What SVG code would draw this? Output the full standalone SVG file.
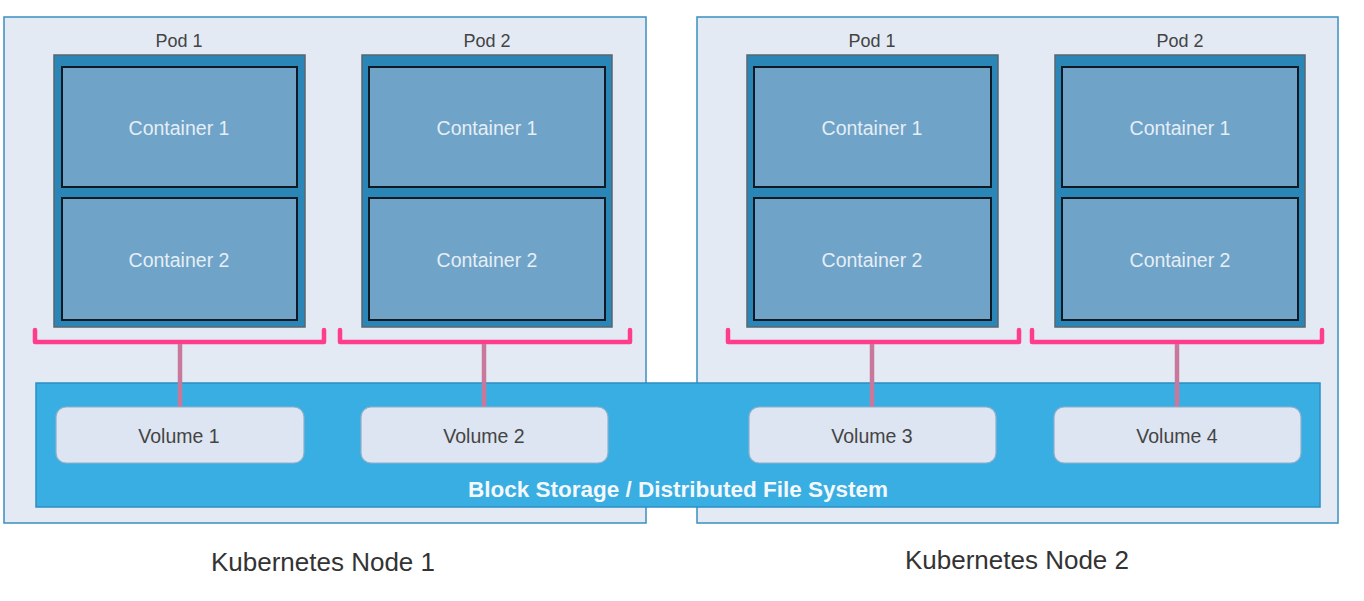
<svg xmlns="http://www.w3.org/2000/svg" width="1364" height="601" viewBox="0 0 1364 601">
<style>
.node{fill:#e3eaf4;stroke:#3b8fc0;stroke-width:1.5}
.pod{fill:#2a86b6;stroke:#5a6570;stroke-width:1.5}
.ctr{fill:#6fa3c8;stroke:#111a22;stroke-width:2}
.vol{fill:#dde4f2;stroke:#8fb0cc;stroke-width:1.2}
.bracket{fill:none;stroke:#ff3d8c;stroke-width:4.5;stroke-linejoin:round;stroke-linecap:round}
.conn{stroke:#c8789a;stroke-width:4.5}
text{font-family:"Liberation Sans",Arial,sans-serif;text-anchor:middle}
.lbl{font-size:18px;fill:#444}
.ctxt{font-size:19.5px;fill:#e6eef6}
.vtxt{font-size:19.5px;fill:#444}
.big{font-size:26px;fill:#333}
.st{font-size:22.5px;font-weight:bold;fill:#f4f8fc}
</style>
<rect width="1364" height="601" fill="#ffffff"/>
<g id="node1">
<rect class="node" x="4" y="17" width="642" height="506"/>
</g>
<g id="node2">
<rect class="node" x="697" y="17" width="641" height="506"/>
</g>
<g id="n1pod1">
<rect class="pod" x="54" y="55" width="251" height="272"/>
<text class="lbl" x="179" y="47">Pod 1</text>
<rect class="ctr" x="62" y="67" width="235" height="120"/>
<text class="ctxt" x="179" y="135">Container 1</text>
<rect class="ctr" x="62" y="198" width="235" height="122"/>
<text class="ctxt" x="179" y="267">Container 2</text>
</g>
<g id="n1pod2">
<rect class="pod" x="362" y="55" width="250" height="272"/>
<text class="lbl" x="487" y="47">Pod 2</text>
<rect class="ctr" x="369" y="67" width="236" height="120"/>
<text class="ctxt" x="487" y="135">Container 1</text>
<rect class="ctr" x="369" y="198" width="236" height="122"/>
<text class="ctxt" x="487" y="267">Container 2</text>
</g>
<g id="n2pod1">
<rect class="pod" x="747" y="55" width="251" height="272"/>
<text class="lbl" x="872" y="47">Pod 1</text>
<rect class="ctr" x="754" y="67" width="237" height="120"/>
<text class="ctxt" x="872" y="135">Container 1</text>
<rect class="ctr" x="754" y="198" width="237" height="122"/>
<text class="ctxt" x="872" y="267">Container 2</text>
</g>
<g id="n2pod2">
<rect class="pod" x="1055" y="55" width="250" height="272"/>
<text class="lbl" x="1180" y="47">Pod 2</text>
<rect class="ctr" x="1062" y="67" width="236" height="120"/>
<text class="ctxt" x="1180" y="135">Container 1</text>
<rect class="ctr" x="1062" y="198" width="236" height="122"/>
<text class="ctxt" x="1180" y="267">Container 2</text>
</g>
<g id="storage">
<rect x="36" y="383" width="1284" height="124" fill="#38aee2" stroke="#2c8fc4" stroke-width="1.5"/>
<text class="st" x="678" y="497">Block Storage / Distributed File System</text>
</g>
<g id="connectors">
<path class="bracket" d="M35,330 V342 H324 V330"/>
<path class="bracket" d="M340,330 V342 H630 V330"/>
<path class="bracket" d="M728,330 V342 H1019 V330"/>
<path class="bracket" d="M1032,330 V342 H1322 V330"/>
<line class="conn" x1="180" y1="344" x2="180" y2="407"/>
<line class="conn" x1="484" y1="344" x2="484" y2="407"/>
<line class="conn" x1="872" y1="344" x2="872" y2="407"/>
<line class="conn" x1="1177" y1="344" x2="1177" y2="407"/>
</g>
<g id="volume1">
<rect class="vol" x="56" y="407" width="248" height="56" rx="10"/>
<text class="vtxt" x="179" y="443">Volume 1</text>
</g>
<g id="volume2">
<rect class="vol" x="361" y="407" width="247" height="56" rx="10"/>
<text class="vtxt" x="484" y="443">Volume 2</text>
</g>
<g id="volume3">
<rect class="vol" x="749" y="407" width="247" height="56" rx="10"/>
<text class="vtxt" x="872" y="443">Volume 3</text>
</g>
<g id="volume4">
<rect class="vol" x="1054" y="407" width="247" height="56" rx="10"/>
<text class="vtxt" x="1177" y="443">Volume 4</text>
</g>
<text class="big" x="323" y="571">Kubernetes Node 1</text>
<text class="big" x="1017" y="569">Kubernetes Node 2</text>
</svg>
